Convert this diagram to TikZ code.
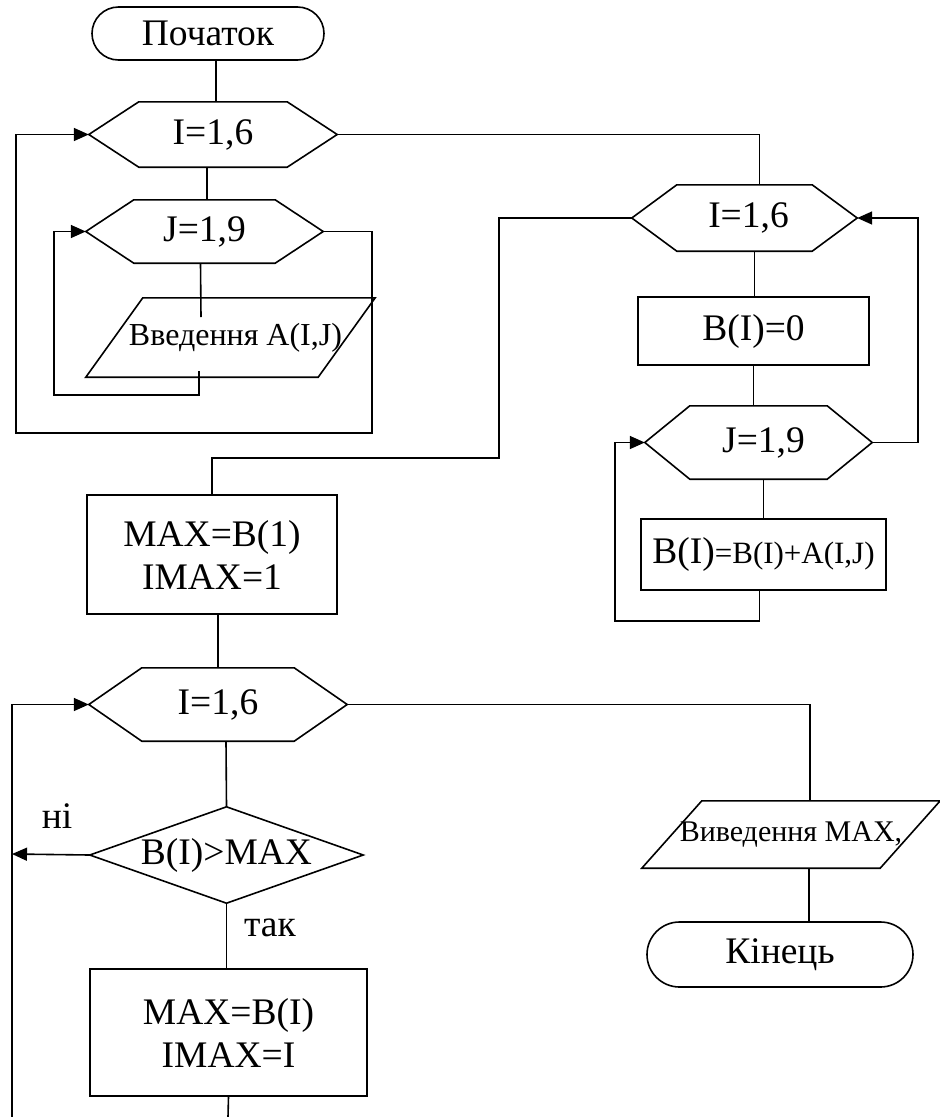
\documentclass[tikz,border=0pt]{standalone}
\usepackage{fontspec}
\setmainfont{Liberation Serif}
\usetikzlibrary{arrows.meta,shapes.misc}
\newcommand{\hexo}[2]{\draw[ln] ([xshift=#2pt]#1.north west) -- ([xshift=-#2pt]#1.north east) -- (#1.east) -- ([xshift=-#2pt]#1.south east) -- ([xshift=#2pt]#1.south west) -- (#1.west) -- cycle;}
\newcommand{\parao}[2]{\draw[ln] ([xshift=#2pt]#1.north west) -- (#1.north east) -- ([xshift=-#2pt]#1.south east) -- (#1.south west) -- cycle;}
\newcommand{\diao}[1]{\draw[ln] (#1.north) -- (#1.east) -- (#1.south) -- (#1.west) -- cycle;}
\tikzset{
  ln/.style={line width=1.6pt, line join=miter},
  arr/.style={ln, -{Triangle[length=15pt,width=13pt]}},
  big/.style={font=\fontsize{37.5}{43}\selectfont},
  mid/.style={font=\fontsize{30}{36}\selectfont},
  shp/.style={inner sep=0pt, align=center, big},
  boxn/.style={shp, draw, line width=1.6pt, rectangle},
  termn/.style={shp, draw, line width=1.6pt, rounded rectangle},
}
\begin{document}
\begin{tikzpicture}[x=1pt,y=-1pt]
\useasboundingbox (0,0) rectangle (940,1117);
% left column, first loop
\node[termn, minimum width=232pt, minimum height=53pt] (start) at (208,33.5) {Початок};
\node[shp, minimum width=248pt, minimum height=65pt] (hA) at (213,134.5) {I=1,6};
\hexo{hA}{50}
\node[shp, minimum width=237pt, minimum height=63pt] (hB) at (204.5,231.5) {J=1,9};
\hexo{hB}{48}
\node[shp, font=\fontsize{32}{36}\selectfont, minimum width=289pt, minimum height=79pt] (pA) at (230.5,337.5) {\hspace*{10pt}Введення A(I,J)};
\parao{pA}{57}
% right column
\node[shp, minimum width=225pt, minimum height=66pt] (hC) at (744.5,218) {\hspace*{8pt}I=1,6};
\hexo{hC}{45}
\node[boxn, minimum width=231pt, minimum height=68pt] (bB0) at (753.5,331) {B(I)=0};
\node[shp, minimum width=227pt, minimum height=73pt] (hD) at (758.5,442.5) {\hspace*{10pt}J=1,9};
\hexo{hD}{45}
\node[boxn, minimum width=245pt, minimum height=71pt] (bS) at (763.5,554.5) {B(I)\fontsize{31}{36}\selectfont=B(I)+A(I,J)};
% lower part
\node[boxn, minimum width=250pt, minimum height=119pt] (bM1) at (212,554.5) {MAX=B(1)\\IMAX=1};
\node[shp, minimum width=258pt, minimum height=73pt] (hE) at (218,704.5) {I=1,6};
\hexo{hE}{53}
\node[shp, minimum width=273pt, minimum height=96pt] (dia) at (226.5,855) {B(I)>MAX};
\diao{dia}
\node[boxn, minimum width=277pt, minimum height=127pt] (bMI) at (228.5,1032.5) {MAX=B(I)\\IMAX=I};
\node[big] (ni) at (57,816) {ні};
\node[big] (tak) at (270,928) {так};
\node[shp, mid, minimum width=298pt, minimum height=67pt] (pB) at (791,834.5) {Виведення MAX,};
\parao{pB}{60}
\node[termn, minimum width=266pt, minimum height=65pt] (fin) at (780,954.5) {Кінець};
% coordinates
\coordinate (jAend) at (201,317);
\coordinate (pAout) at (199,371);
\coordinate (loopA) at (54,395);
\coordinate (loopB1) at (372,433);
\coordinate (loopB2) at (16,433);
\coordinate (loopC) at (615,621);
\coordinate (loopD) at (918,442.5);
\coordinate (loopE) at (499,458);
\coordinate (leftX) at (12,854);
\coordinate (botA) at (228,1117);
\coordinate (botB) at (12,1117);
% connectors
\draw[ln] ([xshift=8pt]start.south) -- ([xshift=8pt]start.south |- hA.north);
\draw[ln] ([xshift=-6pt]hA.south) -- ([xshift=-6pt]hA.south |- hB.north);
\draw[ln] ([xshift=-4pt]hB.south) -- (jAend);
\draw[arr] (pAout) |- (loopA) |- (hB.west);
\draw[arr] (hB.east) -| (loopB1) -- (loopB2) |- (hA.west);
\draw[ln] (hA.east) -| ([xshift=15pt]hC.north);
\draw[ln] ([xshift=10pt]hC.south) -- ([xshift=10pt]hC.south |- bB0.north);
\draw[ln] (bB0.south) -- (bB0.south |- hD.north);
\draw[ln] ([xshift=5pt]hD.south) -- ([xshift=5pt]hD.south |- bS.north);
\draw[arr] ([xshift=-4pt]bS.south) |- (loopC) |- (hD.west);
\draw[arr] (hD.east) -- (loopD) |- (hC.east);
\draw[ln] (hC.west) -| (loopE) -| (bM1.north);
\draw[ln] ([xshift=6pt]bM1.south) -- ([xshift=6pt]bM1.south |- hE.north);
\draw[ln] ([xshift=8pt]hE.south) -- (dia.north);
\draw[arr] (dia.west) -- (leftX);
\draw[ln] (dia.south) -- (dia.south |- bMI.north);
\draw[ln] (bMI.south) -- (botA);
\draw[arr] (botB) |- (hE.west);
\draw[ln] (hE.east) -| ([xshift=19pt]pB.north);
\draw[ln] ([xshift=18pt]pB.south) -- ([xshift=18pt]pB.south |- fin.north);
\end{tikzpicture}
\end{document}
